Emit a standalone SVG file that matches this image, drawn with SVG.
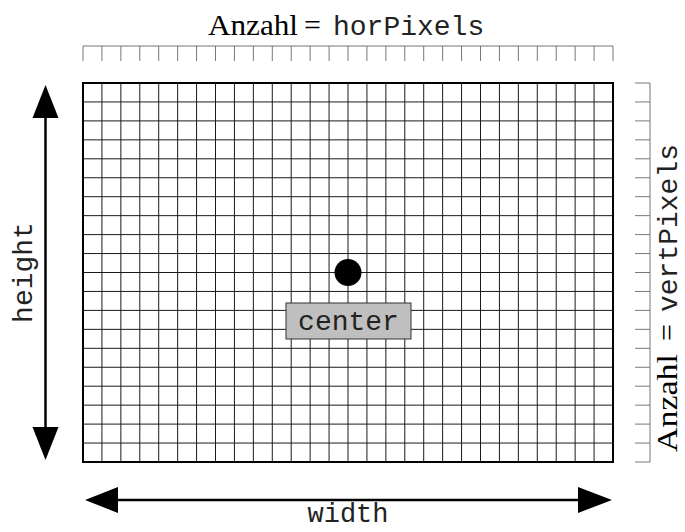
<svg xmlns="http://www.w3.org/2000/svg" width="685" height="532" viewBox="0 0 685 532">
<style>
.grid{fill:none;stroke:#1a1a1a;stroke-width:1}
.border{fill:none;stroke:#000;stroke-width:2}
.tick{fill:none;stroke:#777;stroke-width:1}
.arr{fill:none;stroke:#000;stroke-width:2.5}
.head{fill:#000}
.serif{font-family:"Liberation Serif","Times New Roman",serif;fill:#000}
.mono{font-family:"Liberation Mono","Courier New",monospace;fill:#222}
</style>
<rect width="685" height="532" fill="#fff"/>
<g id="grid">
<path class="grid" d="M101.93 83V462M120.86 83V462M139.79 83V462M158.71 83V462M177.64 83V462M196.57 83V462M215.5 83V462M234.43 83V462M253.36 83V462M272.29 83V462M291.21 83V462M310.14 83V462M329.07 83V462M348 83V462M366.93 83V462M385.86 83V462M404.79 83V462M423.71 83V462M442.64 83V462M461.57 83V462M480.5 83V462M499.43 83V462M518.36 83V462M537.29 83V462M556.21 83V462M575.14 83V462M594.07 83V462
M83 101.95H613M83 120.9H613M83 139.85H613M83 158.8H613M83 177.75H613M83 196.7H613M83 215.65H613M83 234.6H613M83 253.55H613M83 272.5H613M83 291.45H613M83 310.4H613M83 329.35H613M83 348.3H613M83 367.25H613M83 386.2H613M83 405.15H613M83 424.1H613M83 443.05H613"/>
<rect class="border" x="83" y="83" width="530" height="379"/>
</g>
<g id="top-ruler">
<path class="tick" d="M83 46H613M83 46V61M101.93 46V61M120.86 46V61M139.79 46V61M158.71 46V61M177.64 46V61M196.57 46V61M215.5 46V61M234.43 46V61M253.36 46V61M272.29 46V61M291.21 46V61M310.14 46V61M329.07 46V61M348 46V61M366.93 46V61M385.86 46V61M404.79 46V61M423.71 46V61M442.64 46V61M461.57 46V61M480.5 46V61M499.43 46V61M518.36 46V61M537.29 46V61M556.21 46V61M575.14 46V61M594.07 46V61M613 46V61"/>
<text x="208" y="35" class="serif" font-size="30" textLength="90" lengthAdjust="spacingAndGlyphs">Anzahl</text>
<text x="304" y="35" class="serif" font-size="30">=</text>
<text x="333" y="35" class="mono" font-size="28">horPixels</text>
</g>
<g id="right-ruler">
<path class="tick" d="M650 83V462M635 83H650M635 101.95H650M635 120.9H650M635 139.85H650M635 158.8H650M635 177.75H650M635 196.7H650M635 215.65H650M635 234.6H650M635 253.55H650M635 272.5H650M635 291.45H650M635 310.4H650M635 329.35H650M635 348.3H650M635 367.25H650M635 386.2H650M635 405.15H650M635 424.1H650M635 443.05H650M635 462H650"/>
<g transform="translate(677,452) rotate(-90)">
<text x="0" y="0" class="serif" font-size="30" textLength="98" lengthAdjust="spacingAndGlyphs">Anzahl</text>
<text x="111" y="0" class="serif" font-size="30">=</text>
<text x="140" y="0" class="mono" font-size="28">vertPixels</text>
</g>
</g>
<g id="connectors">
<path class="arr" d="M45.5 112V432"/>
<polygon class="head" points="45.5,85 32.5,118 58.5,118"/>
<polygon class="head" points="45.5,460 32.5,427 58.5,427"/>
<path class="arr" d="M112 500H584"/>
<polygon class="head" points="85,500 118,487 118,513"/>
<polygon class="head" points="612,500 578,487 578,513"/>
</g>
<g id="height-label">
<text transform="translate(32,272.5) rotate(-90)" text-anchor="middle" class="mono" font-size="28">height</text>
</g>
<g id="width-label">
<text x="348" y="522" text-anchor="middle" class="mono" font-size="27">width</text>
</g>
<g id="center-point">
<circle cx="348" cy="272.5" r="13.5" fill="#000"/>
</g>
<g id="center-label">
<rect x="286" y="303" width="125" height="36" fill="#bfbfbf" stroke="#333" stroke-width="1"/>
<text x="348.5" y="330" text-anchor="middle" class="mono" font-size="28">center</text>
</g>
</svg>
